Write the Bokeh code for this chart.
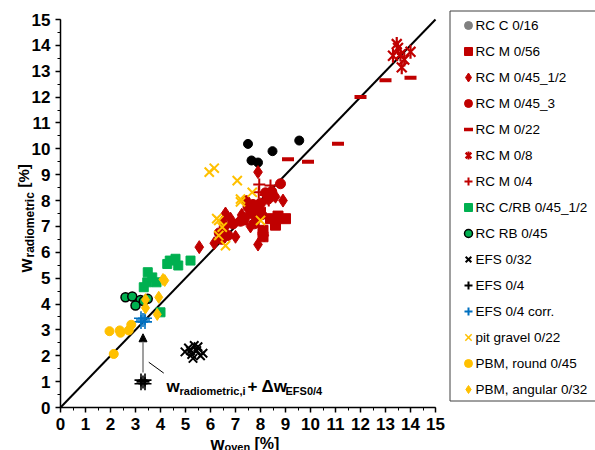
import math
from bokeh.plotting import figure
from bokeh.models import Range1d, Label, Arrow, NormalHead, SingleIntervalTicker
from bokeh.embed import file_html
from bokeh.resources import INLINE
from bokeh.core.properties import value

# ---------------- data (w_oven [%], w_radiometric [%]) ----------------
rcc016_x = [7.5, 8.48, 7.64, 7.9, 9.55]
rcc016_y = [10.19, 9.91, 9.55, 9.47, 10.32]

rcm056_x = [7.3, 8.1, 8.1, 8.4, 8.6, 8.7, 9.0, 8.0]
rcm056_y = [7.25, 6.85, 6.6, 7.3, 7.05, 7.4, 7.3, 7.55]

rcm045_12_x = [5.55, 6.15, 6.4, 6.6, 6.8, 7.0, 7.25, 7.6, 7.9, 8.15, 8.9, 7.9, 8.6, 6.5]
rcm045_12_y = [6.2, 6.35, 6.6, 7.5, 7.3, 6.6, 7.45, 7.0, 6.3, 6.65, 8.0, 9.1, 8.15, 7.2]

rcm045_3_x = [6.35, 6.55, 6.45, 6.7, 7.2, 7.35, 7.5, 7.6, 7.7, 7.85, 7.95, 8.05, 8.2, 8.3, 8.45, 8.8, 7.4, 7.75, 8.0, 6.9]
rcm045_3_y = [6.75, 7.0, 6.5, 6.65, 7.2, 7.3, 7.75, 7.5, 7.85, 7.3, 7.6, 7.45, 8.3, 8.05, 8.35, 8.65, 8.0, 7.1, 7.9, 7.1]

rcm022_x = [9.1, 9.9, 11.1, 12.0, 13.0, 14.0]
rcm022_y = [9.6, 9.5, 10.2, 12.0, 12.65, 12.75]

rcm08_x = [13.45, 13.6, 14.0, 13.65, 13.3, 13.5, 13.75]
rcm08_y = [14.05, 13.65, 13.75, 13.15, 13.6, 13.9, 13.45]

rcm04_x = [8.4, 7.93, 8.33, 8.33, 8.2, 7.95]
rcm04_y = [8.58, 8.32, 8.13, 8.0, 8.22, 8.62]

rccrb_x = [3.33, 3.47, 3.49, 3.67, 3.84, 4.27, 4.37, 4.6, 4.71, 5.2, 4.0]
rccrb_y = [4.65, 4.84, 5.23, 5.03, 4.84, 5.55, 5.68, 5.75, 5.49, 5.68, 3.68]

rcrb_x = [2.6, 2.87, 3.2, 3.0, 3.49, 3.33]
rcrb_y = [4.26, 4.29, 4.16, 3.94, 4.2, 4.11]

efs032_x = [4.98, 5.12, 5.25, 5.35, 5.45, 5.6, 5.7, 5.3, 5.5, 5.2]
efs032_y = [2.15, 2.3, 2.05, 2.4, 2.2, 2.0, 2.1, 1.9, 2.35, 2.2]

efs04_x = [3.22, 3.38, 3.22, 3.38, 3.3]
efs04_y = [0.92, 1.06, 1.06, 0.92, 0.99]

efs04c_x = [3.22, 3.38, 3.22, 3.38, 3.3]
efs04c_y = [3.31, 3.45, 3.45, 3.31, 3.38]

pit_x = [5.95, 6.15, 7.07, 7.2, 7.67, 6.33, 6.47, 6.33, 6.6, 8.0, 6.25, 7.2]
pit_y = [9.1, 9.25, 8.77, 8.06, 8.32, 7.23, 6.97, 6.65, 6.26, 7.23, 7.3, 7.95]

pbmr_x = [1.96, 2.37, 2.4, 2.73, 2.83, 2.13]
pbmr_y = [2.95, 2.98, 2.89, 2.98, 3.2, 2.07]

pbma_x = [3.4, 3.4, 3.93, 4.1, 4.17, 3.87]
pbma_y = [3.85, 4.17, 4.26, 4.95, 4.91, 3.6]

line_x = [0, 15]
line_y = [0, 15]

axis_min, axis_max = 0, 15

labels = ["RC C 0/16", "RC M 0/56", "RC M 0/45_1/2", "RC M 0/45_3", "RC M 0/22",
          "RC M 0/8", "RC M 0/4", "RC C/RB 0/45_1/2", "RC RB 0/45", "EFS 0/32",
          "EFS 0/4", "EFS 0/4 corr.", "pit gravel 0/22", "PBM, round 0/45", "PBM, angular 0/32"]

RED = "#C00000"
GREEN = "#00B050"
YEL = "#FFC000"
BLUE = "#0070C0"

series = [
    (rcc016_x, rcc016_y, dict(marker="circle", size=9, fill_color="black", line_color="black"),
     dict(marker="circle", size=8, fill_color="#808080", line_color="#808080")),
    (rcm056_x, rcm056_y, dict(marker="square", size=10, fill_color=RED, line_color=RED),
     dict(marker="square", size=8, fill_color=RED, line_color=RED)),
    (rcm045_12_x, rcm045_12_y, dict(marker="diamond", size=13, fill_color=RED, line_color=RED),
     dict(marker="diamond", size=9, fill_color=RED, line_color=RED)),
    (rcm045_3_x, rcm045_3_y, dict(marker="circle", size=10, fill_color=RED, line_color=RED),
     dict(marker="circle", size=8, fill_color=RED, line_color=RED)),
    (rcm022_x, rcm022_y, dict(marker="dash", size=12, line_color=RED, line_width=4),
     dict(marker="dash", size=9, line_color=RED, line_width=3.5)),
    (rcm08_x, rcm08_y, dict(marker="x", size=14, line_color=RED, line_width=2.2),
     dict(marker="x", size=8, line_color=RED, line_width=2.5)),
    (rcm04_x, rcm04_y, dict(marker="cross", size=12, line_color=RED, line_width=2),
     dict(marker="cross", size=8, line_color=RED, line_width=2)),
    (rccrb_x, rccrb_y, dict(marker="square", size=9, fill_color=GREEN, line_color=GREEN),
     dict(marker="square", size=8, fill_color=GREEN, line_color=GREEN)),
    (rcrb_x, rcrb_y, dict(marker="circle", size=9, fill_color=GREEN, line_color="black", line_width=1.5),
     dict(marker="circle", size=8, fill_color=GREEN, line_color="black", line_width=1.5)),
    (efs032_x, efs032_y, dict(marker="x", size=12, line_color="black", line_width=2),
     dict(marker="x", size=8, line_color="black", line_width=2)),
    (efs04_x, efs04_y, dict(marker="cross", size=13, line_color="black", line_width=1.6),
     dict(marker="cross", size=8, line_color="black", line_width=2)),
    (efs04c_x, efs04c_y, dict(marker="cross", size=14, line_color=BLUE, line_width=1.6),
     dict(marker="cross", size=8, line_color=BLUE, line_width=2)),
    (pit_x, pit_y, dict(marker="x", size=13, line_color=YEL, line_width=2),
     dict(marker="x", size=9, line_color=YEL, line_width=1.5)),
    (pbmr_x, pbmr_y, dict(marker="circle", size=9, fill_color=YEL, line_color=YEL),
     dict(marker="circle", size=8, fill_color=YEL, line_color=YEL)),
    (pbma_x, pbma_y, dict(marker="diamond", size=12, fill_color=YEL, line_color=YEL),
     dict(marker="diamond", size=8, fill_color=YEL, line_color=YEL)),
]

FONT = "Liberation Sans"

# ---------------- layout geometry (page pixels) ----------------
W, H = 595, 450
X0_PX, X15_PX = 60, 435      # pixel columns of w_oven = 0 and 15
Y0_PX, Y15_PX = 407, 19      # pixel rows of w_radiometric = 0 and 15
SX = (X15_PX - X0_PX) / (axis_max - axis_min)
SY = (Y0_PX - Y15_PX) / (axis_max - axis_min)


def DX(px):
    return (px - X0_PX) / SX


def DY(py):
    return (Y0_PX - py) / SY


p = figure(width=W, height=H, x_range=Range1d(DX(0), DX(W)), y_range=Range1d(DY(H), DY(0)),
           output_backend="svg", toolbar_location=None, min_border=0, title=None)
p.xgrid.visible = False
p.ygrid.visible = False
p.outline_line_color = None
p.background_fill_color = "white"
p.border_fill_color = "white"
for ax in (p.xaxis[0], p.yaxis[0]):
    ax.fixed_location = 0
    ax.bounds = (axis_min, axis_max)
    ax.ticker = SingleIntervalTicker(interval=1, num_minor_ticks=2)
    ax.major_label_text_font = FONT
    ax.major_label_text_font_style = "bold"
    ax.major_label_text_font_size = "17px"
    ax.major_label_text_color = "black"
    ax.axis_line_width = 1.5
    ax.axis_line_color = "black"
    ax.major_tick_line_width = 1.5
    ax.major_tick_line_color = "black"
    ax.minor_tick_line_width = 1
    ax.minor_tick_line_color = "black"
    ax.major_tick_out = 5
    ax.major_tick_in = 0
    ax.minor_tick_out = 3
    ax.minor_tick_in = 0
    ax.major_label_standoff = 5

p.line(line_x, line_y, line_color="black", line_width=2)

for i, (xs, ys, st, _) in enumerate(series):
    p.scatter(xs, ys, **st)
    if i == 5:  # star-like marker: x plus vertical bar
        p.scatter(xs, ys, marker="dash", angle=math.pi / 2, size=14, line_color=RED, line_width=2.2)

# annotation arrow and pointer
p.add_layout(Arrow(x_start=3.3, y_start=1.35, x_end=3.3, y_end=2.85, line_color="#7f7f7f", line_width=1.5,
                   end=NormalHead(size=8, fill_color="black", line_color="black")))
p.segment(x0=[3.53], y0=[1.75], x1=[4.13], y1=[1.33], line_color="black", line_width=1)


def blabel(px, py, text, size, angle=0.0):
    p.add_layout(Label(x=DX(px), y=DY(py), text=text,
                       text_font=FONT, text_font_style="bold", text_font_size=f"{size}px",
                       angle=angle, text_align="left", text_baseline="alphabetic",
                       text_color="black"))


# in-plot annotation text
for px, py, tt, ts in [(166, 386, "w", 17), (179, 390, "radiometric,i", 11),
                       (247, 386, "+ \u0394w", 17), (285, 390, "EFS0/4", 11)]:
    blabel(px, py, tt, ts)

# x-axis label
for px, py, tt, ts in [(210, 443, "w", 18), (224, 446, "oven", 11), (254, 443, "[%]", 16)]:
    blabel(px, py, tt, ts)

# y-axis label (rotated)
for px, py, tt, ts in [(25, 272, "w", 18), (29, 257, "radiometric", 12), (23, 187, "[%]", 15)]:
    blabel(px, py, tt, ts, angle=math.pi / 2)

# ---------------- legend ----------------
p.quad(left=[DX(449.5)], right=[DX(640)], top=[DY(10.5)], bottom=[DY(400.5)], fill_color="white",
       line_color="#404040", line_width=1)
for i, (lbl, (_, _, _, lst)) in enumerate(zip(labels, series)):
    yy = DY(25 + 26 * i)
    p.scatter([DX(468)], [yy], **lst)
    if i == 5:
        p.scatter([DX(468)], [yy], marker="dash", angle=math.pi / 2, size=8, line_color=RED, line_width=2)
    p.text([DX(475)], [yy], text=[lbl], text_font=value(FONT), text_font_size="13.5px",
           text_baseline="middle", text_align="left", text_color="black")

open("out.html", "w").write(file_html(p, INLINE))
